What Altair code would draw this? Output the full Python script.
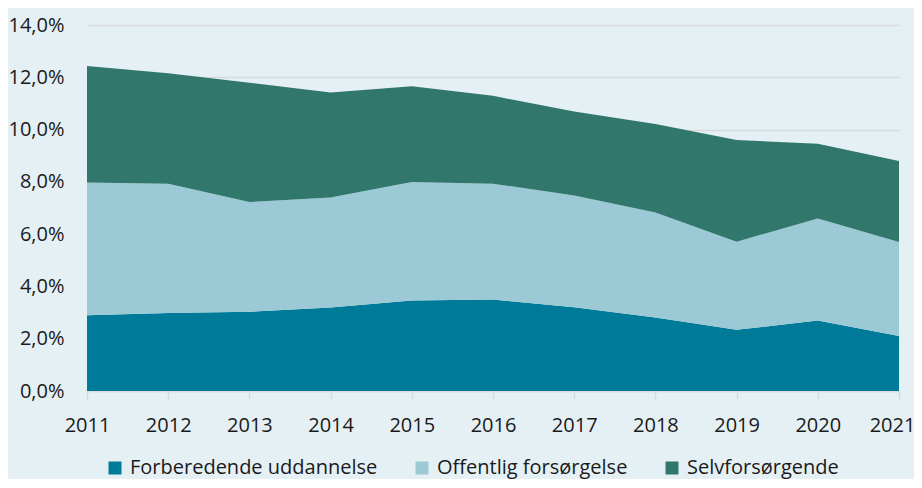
import altair as alt
import pandas as pd

years = [2011, 2012, 2013, 2014, 2015, 2016, 2017, 2018, 2019, 2020, 2021]
series = ["Forberedende uddannelse", "Offentlig forsørgelse", "Selvforsørgende"]
forberedende = [2.90, 2.98, 3.03, 3.19, 3.46, 3.50, 3.20, 2.81, 2.34, 2.70, 2.10]
offentlig = [5.08, 4.95, 4.20, 4.21, 4.53, 4.43, 4.28, 4.02, 3.37, 3.90, 3.60]
selv = [4.45, 4.22, 4.56, 4.02, 3.67, 3.36, 3.21, 3.38, 3.89, 2.86, 3.10]
colors = ["#007a99", "#9bcad6", "#31776b"]

rows = []
for i, (name, vals) in enumerate(zip(series, [forberedende, offentlig, selv])):
    for y, v in zip(years, vals):
        rows.append({"year": y, "serie": name, "value": v, "ord": i})
df = pd.DataFrame(rows)

font = "Open Sans"
fs = 20

chart = alt.Chart(df).mark_area(opacity=1).encode(
    x=alt.X("year:Q",
            scale=alt.Scale(domain=[2011, 2021], nice=False, zero=False),
            axis=alt.Axis(values=years, format="d", title=None, grid=False,
                          labelFlush=False, labelOverlap=False,
                          labelOffset={"condition": {"test": "datum.value == 2021", "value": -7}, "value": 0},
                          domain=True, domainColor="#d9d9d9", domainWidth=1.5,
                          ticks=True, tickColor="#d9d9d9", tickSize=8, tickWidth=1.5,
                          labelPadding=16)),
    y=alt.Y("value:Q", stack="zero",
            scale=alt.Scale(domain=[0, 14], nice=False),
            axis=alt.Axis(values=[0, 2, 4, 6, 8, 10, 12, 14], title=None,
                          labelExpr="replace(format(datum.value, '.1f'), '.', ',') + '%'",
                          domain=False, ticks=False, grid=True,
                          gridColor="#d9d9d9", gridWidth=1.5, labelPadding=23)),
    color=alt.Color("serie:N",
                    scale=alt.Scale(domain=series, range=colors),
                    legend=alt.Legend(title=None, orient="none", legendX=18, legendY=433,
                                      direction="horizontal", columns=3,
                                      symbolType="square", symbolSize=169,
                                      symbolStrokeWidth=0, labelOffset=5,
                                      columnPadding=34)),
    order=alt.Order("ord:Q", sort="ascending"),
).properties(
    width=812, height=366,
    background="#e5f0f5",
    padding={"left": 79, "top": 17, "right": 15, "bottom": 88},
    autosize=alt.AutoSizeParams(type="none"),
).configure_view(stroke=None).configure_axis(
    labelFont=font, labelFontSize=fs, labelColor="#1a1a1a"
).configure_legend(
    labelFont=font, labelFontSize=fs, labelColor="#1a1a1a", labelLimit=400
)

chart.save("out.html", embed_options={"renderer": "svg", "actions": False})
